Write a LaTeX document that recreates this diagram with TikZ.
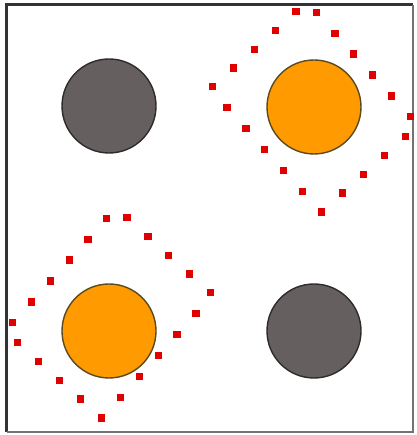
\documentclass[tikz,border=0pt]{standalone}
\usepackage{xcolor}
\usepackage{tikz}
\usetikzlibrary{calc,decorations.markings}
\definecolor{disk}{HTML}{655F5F}
\definecolor{diskedge}{HTML}{2E2B2B}
\definecolor{gold}{HTML}{FF9A00}
\definecolor{goldedge}{HTML}{5A4A20}
\definecolor{dotred}{HTML}{E00000}

\tikzset{
  gdisk/.style={circle, fill=disk, draw=diskedge, line width=1.4pt, minimum size=94pt, inner sep=0pt},
  odisk/.style={circle, fill=gold, draw=goldedge, line width=1.4pt, minimum size=94pt, inner sep=0pt},
  reddot/.style={rectangle, fill=dotred, minimum size=7.2pt, inner sep=0pt},
  dotbox/.style={decorate, decoration={markings,
      mark=between positions 0.0236 and 1 step 0.047619 with {\node[reddot] {};}}}
}

\begin{document}
\begin{tikzpicture}[x=1pt, y=1pt]
\useasboundingbox (0,0) rectangle (416,435);
% frame
\draw[line width=3pt, black!80] (6.5,3) -- (6.5,430) -- (412.5,430);
\draw[line width=2pt, black!55] (412.5,430) -- (412.5,3) -- (6.5,3);
% disks
\node[gdisk] (nw) at (109,329) {};
\node[odisk] (ne) at (314,328) {};
\node[odisk] (sw) at (109,104) {};
\node[gdisk] (se) at (314,104) {};
% dotted boxes round the orange disks
\path[dotbox, shift={(ne)}, rotate=-48] (-83,65) -- (83,65) -- (83,-65) -- (-83,-65) -- cycle;
\path[dotbox, shift={($(sw)+(0,18)$)}, rotate=48] (83,65) -- (-83,65) -- (-83,-65) -- (83,-65) -- cycle;
\end{tikzpicture}
\end{document}
